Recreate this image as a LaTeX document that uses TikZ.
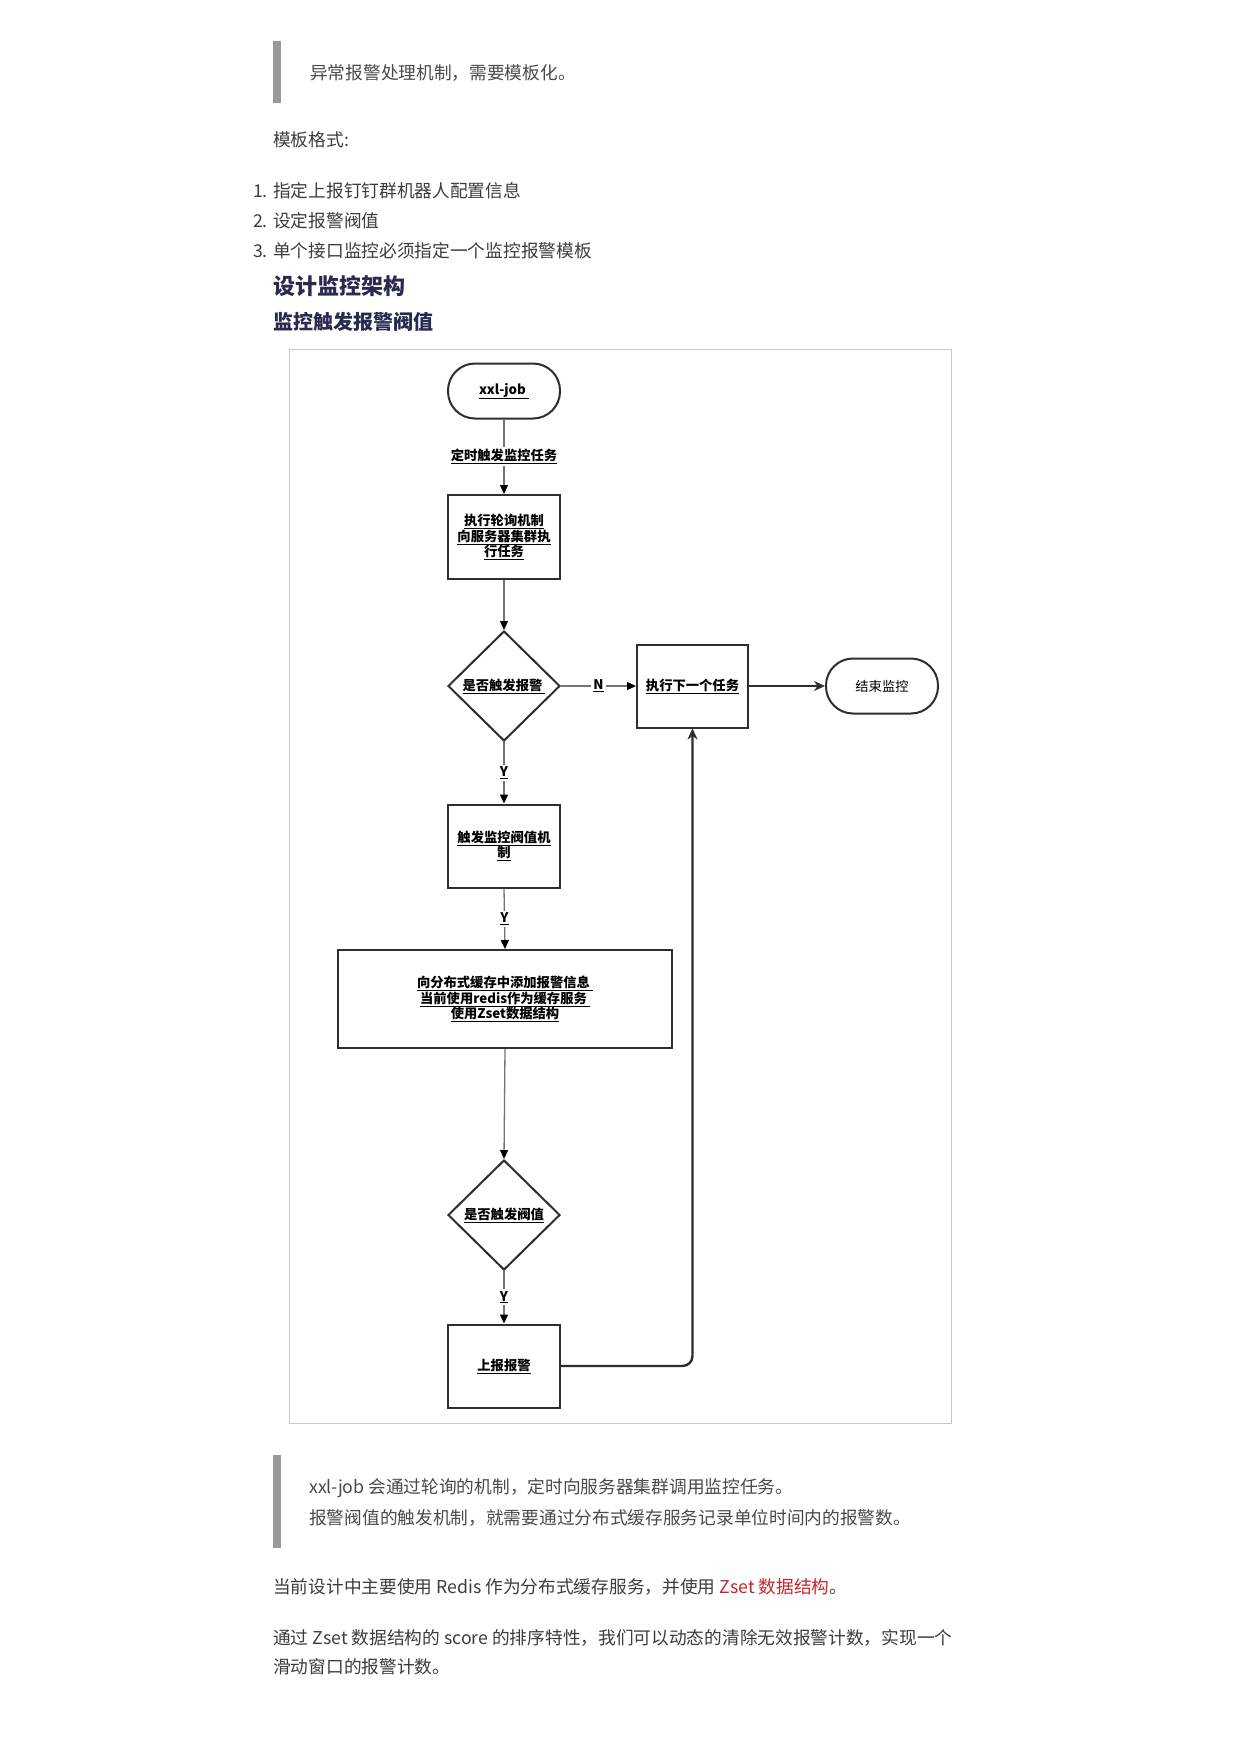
\documentclass[tikz,border=0pt]{standalone}
\usepackage{fontspec}
\setmainfont{Noto Sans CJK SC}
\usetikzlibrary{shapes.geometric,arrows.meta}
\definecolor{bodytxt}{HTML}{3C3C3C}
\definecolor{quotetxt}{HTML}{4A4A4A}
\definecolor{headtxt}{HTML}{2A2A50}
\definecolor{redtxt}{HTML}{C0282D}
\definecolor{nodeline}{HTML}{2E2E2E}
\definecolor{edgeline}{HTML}{747474}
\newcommand\ulx[1]{\underline{#1}}
\tikzset{
  bodytext/.style={anchor=west, inner sep=0pt, text=bodytxt, font=\fontsize{17.7}{21}\selectfont},
  quotetext/.style={anchor=west, inner sep=0pt, text=quotetxt, font=\fontsize{17.7}{21}\selectfont},
  numtext/.style={anchor=east, inner sep=0pt, text=bodytxt, font=\fontsize{17.7}{21}\selectfont},
  headA/.style={anchor=west, inner sep=0pt, text=headtxt, font=\fontsize{22}{26}\selectfont\bfseries},
  headB/.style={anchor=west, inner sep=0pt, text=headtxt, font=\fontsize{20}{24}\selectfont\bfseries},
  fcfont/.style={font=\fontsize{13.3}{15.5}\selectfont\bfseries, align=center, text=black},
  procbox/.style={draw=nodeline, line width=2pt, rectangle, inner sep=0pt, fcfont},
  termbox/.style={draw=nodeline, line width=2pt, rectangle, rounded corners=27pt, inner sep=0pt,
                  minimum width=112pt, minimum height=55pt, fcfont},
  decbox/.style={draw=nodeline, line width=2pt, diamond, shape aspect=1, inner sep=0pt,
                 minimum width=112pt, minimum height=110pt, fcfont},
  thinarrow/.style={draw=edgeline, line width=1.3pt, -{Triangle[length=9pt,width=8pt,color=black]}},
  thickarrow/.style={draw=nodeline, line width=2.4pt, -{Stealth[length=11pt,width=10pt]}},
  edgelabel/.style={fill=white, inner sep=2pt, fcfont},
  quotebar/.style={fill=black!40}
}
\begin{document}
\begin{tikzpicture}[x=1pt,y=-1pt]
\useasboundingbox[fill=white] (0,0) rectangle (1241,1754);

% top blockquote
\fill[quotebar] (273,41) rectangle (281,103);
\node[quotetext] (q1) at (310,73) {异常报警处理机制，需要模板化。};

\node[bodytext] (fmt) at (273,140) {模板格式:};
\node[numtext] (n1) at (268,191) {1.};
\node[bodytext] (l1) at (273,191) {指定上报钉钉群机器人配置信息};
\node[numtext] (n2) at (268,221) {2.};
\node[bodytext] (l2) at (273,221) {设定报警阀值};
\node[numtext] (n3) at (268,251) {3.};
\node[bodytext] (l3) at (273,251) {单个接口监控必须指定一个监控报警模板};

\node[headA] (h1) at (273,286) {设计监控架构};
\node[headB] (h2) at (273,322) {监控触发报警阀值};

% flowchart frame
\draw[draw=black!22, line width=1pt] (289,349) rectangle (951,1423);

% nodes
\node[termbox] (start) at (504,391) {\ulx{xxl-job\ }};
\node[procbox, minimum width=112pt, minimum height=84pt] (poll) at (504,537)
  {\ulx{执行轮询机制}\\\ulx{向服务器集群执}\\\ulx{行任务}};
\node[decbox] (alarm) at (504,686) {\ulx{是否触发报警\ }};
\node[procbox, minimum width=111pt, minimum height=83pt] (next) at (692.5,686) {\ulx{执行下一个任务}};
\node[termbox, font=\fontsize{13.3}{15.5}\selectfont] (stop) at (882,686) {结束监控};
\node[procbox, minimum width=112pt, minimum height=83pt] (thr) at (504,846)
  {\ulx{触发监控阀值机}\\\ulx{制}};
\node[procbox, minimum width=334pt, minimum height=98pt] (cache) at (505,999)
  {\ulx{向分布式缓存中添加报警信息\ }\\\ulx{当前使用redis作为缓存服务\ }\\\ulx{使用Zset数据结构}};
\node[decbox] (limit) at (504,1215) {\ulx{是否触发阀值}};
\node[procbox, minimum width=112pt, minimum height=83pt] (report) at (504,1366) {\ulx{上报报警}};

% connectors
\draw[thinarrow] (start) -- node[edgelabel] {\ulx{定时触发监控任务}} (poll);
\draw[thinarrow] (poll) -- (alarm);
\draw[thinarrow] (alarm.east) -- node[edgelabel] {\ulx{N}} (next.west);
\draw[thickarrow] (next.east) -- (stop.west);
\draw[thinarrow] (alarm.south) -- node[edgelabel] {\ulx{Y}} (thr.north);
\draw[thinarrow] (thr.south) -- node[edgelabel] {\ulx{Y}} (cache.north);
\draw[thinarrow] (cache.south) -- (limit.north);
\draw[thinarrow] (limit.south) -- node[edgelabel] {\ulx{Y}} (report.north);
\draw[thickarrow, rounded corners=10pt] (report.east) -| (next.south);

% bottom blockquote
\fill[quotebar] (273,1455) rectangle (281,1548);
\node[quotetext] (q2) at (309,1488) {xxl-job 会通过轮询的机制，定时向服务器集群调用监控任务。};
\node[quotetext] (q3) at (309,1518) {报警阀值的触发机制，就需要通过分布式缓存服务记录单位时间内的报警数。};

\node[bodytext] (p1) at (273,1587) {当前设计中主要使用 Redis 作为分布式缓存服务，并使用 {\color{redtxt}Zset 数据结构}。};
\node[bodytext] (p2) at (273,1638) {通过 Zset 数据结构的 score 的排序特性，我们可以动态的清除无效报警计数，实现一个};
\node[bodytext] (p3) at (273,1667) {滑动窗口的报警计数。};
\end{tikzpicture}
\end{document}
